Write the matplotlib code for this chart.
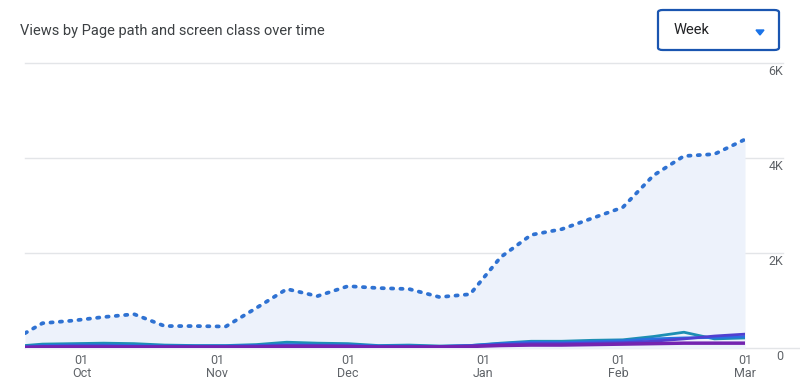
import matplotlib
matplotlib.use('Agg')
import pandas as pd
from matplotlib import pyplot as plt
from matplotlib.patches import FancyBboxPatch, Polygon
from matplotlib.transforms import IdentityTransform

plt.rcParams['font.family'] = ['Roboto', 'DejaVu Sans']

# weekly points (first one is a partial week)
week_dates = pd.to_datetime([
    '2023-09-18', '2023-09-22', '2023-09-29', '2023-10-06', '2023-10-13',
    '2023-10-20', '2023-10-27', '2023-11-03', '2023-11-10', '2023-11-17',
    '2023-11-24', '2023-12-01', '2023-12-08', '2023-12-15', '2023-12-22',
    '2023-12-29', '2024-01-05', '2024-01-12', '2024-01-19', '2024-01-26',
    '2024-02-02', '2024-02-09', '2024-02-16', '2024-02-23', '2024-03-01',
])

total_views = [320, 530, 585, 660, 720, 470, 470, 460, 850, 1250, 1100, 1310, 1270,
               1250, 1080, 1140, 1920, 2390, 2510, 2740, 2970, 3640, 4050, 4090, 4400]

page_teal = [60, 90, 100, 110, 100, 70, 60, 60, 80, 130, 110, 100, 60,
             70, 50, 60, 110, 150, 150, 170, 180, 250, 340, 200, 220]
page_blue = [40, 60, 70, 70, 60, 50, 50, 50, 60, 80, 70, 70, 50,
             50, 40, 60, 100, 130, 120, 140, 160, 200, 220, 230, 250]
page_indigo = [30, 40, 50, 50, 40, 40, 40, 40, 50, 60, 60, 50, 40,
               40, 40, 50, 80, 100, 100, 110, 120, 150, 200, 260, 300]
page_purple = [20, 30, 30, 30, 30, 30, 30, 30, 30, 40, 40, 40, 30,
               30, 30, 40, 60, 70, 70, 80, 90, 100, 110, 110, 110]

month_ticks = pd.to_datetime(['2023-10-01', '2023-11-01', '2023-12-01',
                              '2024-01-01', '2024-02-01', '2024-03-01'])
month_labels = ['01\nOct', '01\nNov', '01\nDec', '01\nJan', '01\nFeb', '01\nMar']

y_ticks = [0, 2000, 4000, 6000]
y_labels = ['0', '2K', '4K', '6K']

grey = '#5f6368'

fig = plt.figure(figsize=(8, 3.82), dpi=100)
ax = fig.add_axes([0.03125, 0.088, 0.9, 0.746])

# grid lines run past the plot into the label column
for v in y_ticks:
    ax.axhline(v, xmin=0, xmax=1.08 if v == 0 else 1.053, color='#e3e5e8',
               linewidth=1, clip_on=False, zorder=0)

ax.fill_between(week_dates, total_views, 0, color='#edf2fb', linewidth=0, zorder=1)

ax.plot(week_dates, page_teal, color='#1d8fb3', linewidth=2, zorder=3)
ax.plot(week_dates, page_blue, color='#2a6fe0', linewidth=2, zorder=3)
ax.plot(week_dates, page_indigo, color='#5140d0', linewidth=2, zorder=3)
ax.plot(week_dates, page_purple, color='#7424b0', linewidth=2.5, zorder=4)

ax.plot(week_dates, total_views, color='#2f72d2', linewidth=2.7,
        linestyle=(0, (0.6, 1.9)), dash_capstyle='round', zorder=5)

ax.set_xlim(week_dates[0], week_dates[-1])
ax.set_ylim(0, 6000)
for s in ax.spines.values():
    s.set_visible(False)
ax.set_facecolor('none')

ax.set_xticks(month_ticks)
ax.set_xticklabels(month_labels, fontsize=9, color=grey, linespacing=1.0)
ax.set_yticks([])
ax.tick_params(axis='x', length=0, pad=4)

for v, lab in zip(y_ticks, y_labels):
    ax.text(1.053, v - 40, lab, transform=ax.get_yaxis_transform(),
            ha='right', va='top', fontsize=9, color=grey)

fig.text(20 / 800, 1 - 31 / 382, 'Views by Page path and screen class over time',
         fontsize=10.5, color='#3c4043', va='center', ha='left')

# period dropdown
box = FancyBboxPatch((658 / 800, 1 - 50 / 382), 121 / 800, 40 / 382,
                     boxstyle='round,pad=0,rounding_size=0.006',
                     transform=fig.transFigure, facecolor='white',
                     edgecolor='#1a55b0', linewidth=1.6)
fig.patches.append(box)
fig.text(674 / 800, 1 - 30 / 382, 'Week', fontsize=10.5, color='#202124',
         va='center', ha='left')
tri = Polygon([(756, 382 - 30), (764, 382 - 30), (760, 382 - 35)],
              closed=True, transform=IdentityTransform(), color='#1a73e8')
fig.patches.append(tri)

fig.savefig('out.png', dpi=100)
